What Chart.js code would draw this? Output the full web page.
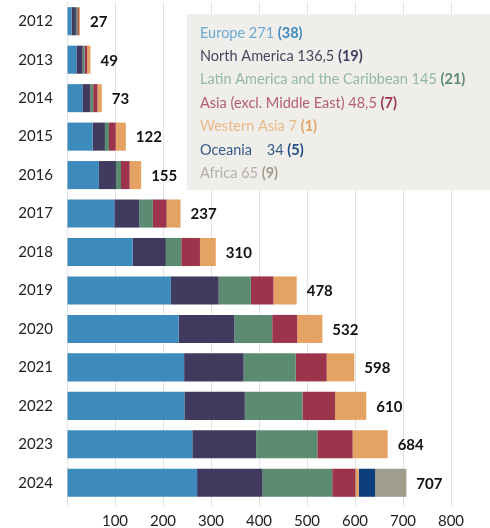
<!DOCTYPE html>
<html>
<head>
<meta charset="utf-8">
<script src="https://cdn.jsdelivr.net/npm/chart.js@4/dist/chart.umd.min.js"></script>
<style>
  html, body { margin: 0; padding: 0; background: #fff; }
  #wrap { width: 490px; height: 528px; }
</style>
</head>
<body>
<div id="wrap"><canvas id="chart" width="490" height="528"></canvas></div>
<script>
const years = ['2012', '2013', '2014', '2015', '2016', '2017', '2018', '2019', '2020', '2021', '2022', '2023', '2024'];
const europe = [9.5, 19.5, 32, 53.5, 66.5, 98.5, 137, 216.5, 232.5, 244, 244.5, 261, 271];
const northAmerica = [9, 13, 16.5, 25.5, 35.5, 52, 69, 99.5, 116, 124, 126, 133, 136.5];
const latinAmerica = [3, 4, 6, 8.5, 10.5, 28.5, 32, 67, 79, 108.5, 120, 127.5, 145];
const asia = [3, 5.5, 9, 14, 18, 28.5, 39, 47, 52, 64.5, 68, 73.5, 48.5];
const westernAsia = [2.5, 7, 9, 21, 24, 29, 33, 48.5, 52.5, 57.5, 65, 73, 7];
const oceania = [0, 0, 0, 0, 0, 0, 0, 0, 0, 0, 0, 0, 34];
const africa = [0, 0, 0, 0, 0, 0, 0, 0, 0, 0, 0, 0, 65];
const totals = ['27', '49', '73', '122', '155', '237', '310', '478', '532', '598', '610', '684', '707'];
const xTicks = [0, 100, 200, 300, 400, 500, 600, 700, 800];

// legend lines: [name + value, count]
const legendNames = ['Europe 271', 'North America 136,5', 'Latin America and the Caribbean 145', 'Asia (excl. Middle East) 48,5', 'Western Asia 7', 'Oceania    34', 'Africa 65'];
const legendCounts = ['(38)', '(19)', '(21)', '(7)', '(1)', '(5)', '(9)'];

const barColors = ['#3d8bbd', '#3f3a5e', '#5b8c72', '#9c344c', '#e4a263', '#0d3f7f', '#a09d8c'];
const textColors = ['#6aaad3', '#4a4560', '#93b9a3', '#b55d76', '#ecb987', '#34598a', '#b3b0a4'];
const boldColors = ['#3d8bbd', '#3f3a5e', '#5b8c72', '#9c344c', '#e4a263', '#1e4a85', '#a09d8c'];

const series = [europe, northAmerica, latinAmerica, asia, westernAsia, oceania, africa];

const totalsPlugin = {
  id: 'totals',
  afterDatasetsDraw(chart) {
    const ctx = chart.ctx;
    const x = chart.scales.x;
    const y = chart.scales.y;
    ctx.save();
    ctx.font = "bold 15px Lato";
    ctx.fillStyle = '#111';
    ctx.textBaseline = 'middle';
    years.forEach((yr, i) => {
      const sum = series.reduce((s, arr) => s + arr[i], 0);
      ctx.fillText(totals[i], x.getPixelForValue(sum) + 10, y.getPixelForValue(i) + 1);
    });
    ctx.restore();
  }
};

const legendPlugin = {
  id: 'legendBox',
  afterDraw(chart) {
    const ctx = chart.ctx;
    ctx.save();
    ctx.fillStyle = '#efeeeb';
    ctx.fillRect(187, 14, 303, 176);
    ctx.textBaseline = 'middle';
    legendNames.forEach((name, i) => {
      const ty = 33 + i * 23.4;
      ctx.font = "14.5px Lato";
      ctx.fillStyle = textColors[i];
      ctx.fillText(name + ' ', 200, ty);
      const w = ctx.measureText(name + ' ').width;
      ctx.font = "bold 14.5px Lato";
      ctx.fillStyle = boldColors[i];
      ctx.fillText(legendCounts[i], 200 + w, ty);
    });
    ctx.restore();
  }
};

const names = ['Europe', 'North America', 'Latin America and the Caribbean', 'Asia (excl. Middle East)', 'Western Asia', 'Oceania', 'Africa'];

new Chart(document.getElementById('chart'), {
  type: 'bar',
  data: {
    labels: years,
    datasets: series.map((data, i) => ({
      label: names[i],
      data: data,
      backgroundColor: barColors[i],
      borderWidth: 0,
      barPercentage: 0.73,
      categoryPercentage: 1
    }))
  },
  options: {
    indexAxis: 'y',
    responsive: false,
    animation: false,
    layout: { padding: { top: 2, right: 39, left: 0, bottom: 0 } },
    plugins: {
      legend: { display: false },
      tooltip: { enabled: false }
    },
    scales: {
      x: {
        stacked: true,
        min: 0,
        max: 800,
        afterBuildTicks: axis => { axis.ticks = xTicks.map(v => ({ value: v })); },
        afterFit: axis => { axis.height = 26; },
        ticks: {
          color: '#222',
          font: { family: 'Lato', size: 15 },
          padding: 6,
          callback: v => (v === 0 ? '' : v)
        },
        grid: { color: '#e2e2e2', lineWidth: 1, tickLength: 4 },
        border: { display: false }
      },
      y: {
        stacked: true,
        afterFit: axis => {
          axis.width = 67;
          axis.paddingTop = 0;
          axis.paddingBottom = 0;
        },
        ticks: {
          color: '#222',
          font: { family: 'Lato', size: 15 },
          padding: 0
        },
        grid: { display: false, drawTicks: true, tickLength: 14 },
        border: { display: false }
      }
    }
  },
  plugins: [totalsPlugin, legendPlugin]
});
</script>
</body>
</html>
